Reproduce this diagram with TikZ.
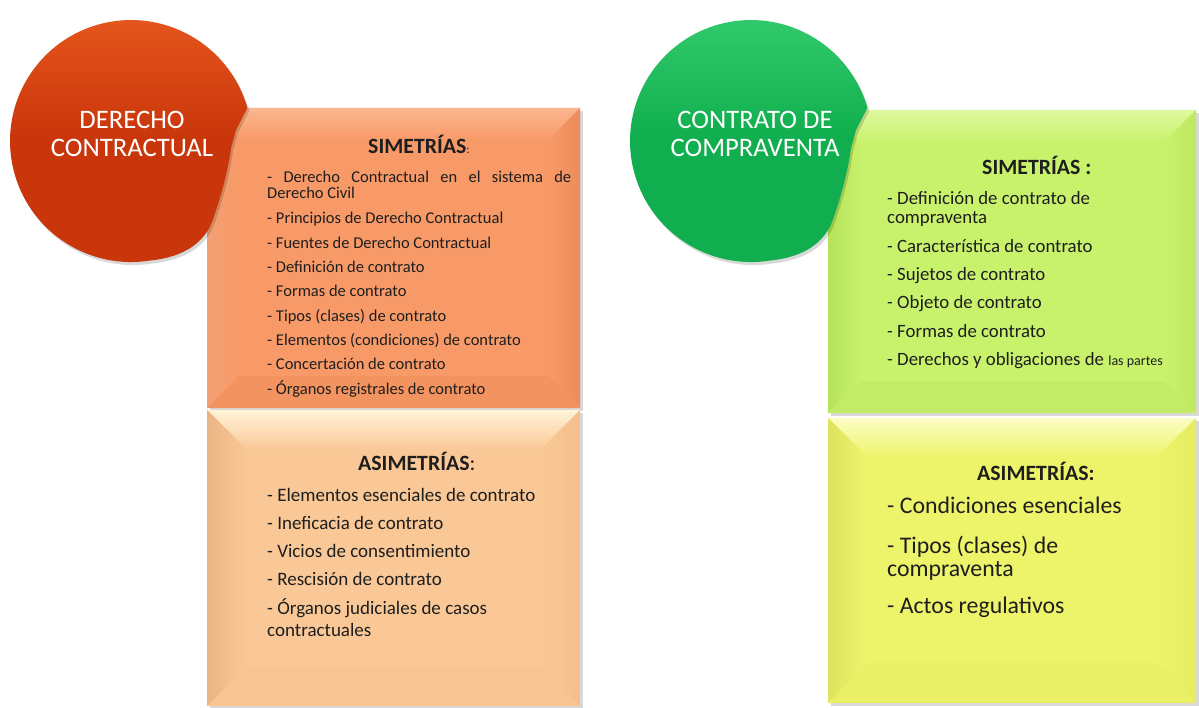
\documentclass[tikz,border=0pt]{standalone}
\usepackage{fontspec}
\setmainfont{Carlito}
\definecolor{txt}{HTML}{1E1E1E}
% left circle / boxes
\definecolor{Rbase}{HTML}{C9360B}
\definecolor{Rlight}{HTML}{E8581F}
\definecolor{LUbase}{HTML}{F89A68}
\definecolor{LUtop}{HTML}{FBB690}
\definecolor{LUleft}{HTML}{F2A074}
\definecolor{LUright}{HTML}{EC8B5B}
\definecolor{LUbot}{HTML}{F3935F}
\definecolor{LLbase}{HTML}{FAC896}
\definecolor{LLtop}{HTML}{FFF3D9}
\definecolor{LLleft}{HTML}{EAB584}
\definecolor{LLright}{HTML}{F2BF8C}
\definecolor{LLbot}{HTML}{F6C592}
% right circle / boxes
\definecolor{Gbase}{HTML}{10AE4E}
\definecolor{Glight}{HTML}{34CC6E}
\definecolor{RUbase}{HTML}{C8F26C}
\definecolor{RUtop}{HTML}{E0F8A0}
\definecolor{RUleft}{HTML}{B6E25A}
\definecolor{RUright}{HTML}{BEE862}
\definecolor{RUbot}{HTML}{C2EC66}
\definecolor{RLbase}{HTML}{EEF46A}
\definecolor{RLtop}{HTML}{FBFDC4}
\definecolor{RLleft}{HTML}{DDE35E}
\definecolor{RLright}{HTML}{E6EC62}
\definecolor{RLbot}{HTML}{EAF066}
\newcommand\bevbox[6]{%
  \fill[black,opacity=0.15] (#1+3,#2+3) rectangle (#3+3,#4+3);
  \fill[#6base] (#1,#2) rectangle (#3,#4);
  \shade[top color=#6top, bottom color=#6base] (#1,#2) -- (#3,#2) -- (#3-#5,#2+#5) -- (#1+#5,#2+#5) -- cycle;
  \shade[left color=#6left, right color=#6base] (#1,#2) -- (#1+#5,#2+#5) -- (#1+#5,#4-#5) -- (#1,#4) -- cycle;
  \shade[left color=#6base, right color=#6right] (#3,#2) -- (#3-#5,#2+#5) -- (#3-#5,#4-#5) -- (#3,#4) -- cycle;
  \fill[#6bot] (#1,#4) -- (#1+#5,#4-#5) -- (#3-#5,#4-#5) -- (#3,#4) -- cycle;
}
% circle shape with flattened lower-right side, centre (131,141), r = 121
\newcommand\dropshape{(247.4,107.9) arc[start angle=-15.9, end angle=-279.1, radius=121]
  .. controls (185,257) and (204,242) .. (212,222) .. controls (220,200) and (228,172) .. (231,148) -- (236,130) -- cycle}
\newcommand\drop[3]{%
  \begin{scope}[shift={(#1,0)}]
    \fill[black,opacity=0.15,shift={(2,3)}] \dropshape;
    \shade[top color=#3, bottom color=#2, middle color=#2] \dropshape;
  \end{scope}
}
\tikzset{
  itemA/.style={anchor=base west, inner sep=0pt, text=txt, font=\fontsize{16.5}{19}\selectfont},
  itemB/.style={anchor=base west, inner sep=0pt, text=txt, font=\fontsize{19}{22}\selectfont},
  itemC/.style={anchor=base west, inner sep=0pt, text=txt, font=\fontsize{18.8}{22}\selectfont},
  itemD/.style={anchor=base west, inner sep=0pt, text=txt, font=\fontsize{23.8}{28}\selectfont},
  head/.style={anchor=base west, inner sep=0pt, text=txt, font=\fontsize{21.8}{25}\selectfont},
  ctitle/.style={anchor=base, inner sep=0pt, text=white, font=\fontsize{26.7}{31}\selectfont},
}
\begin{document}
\begin{tikzpicture}[x=1pt,y=-1pt]
\useasboundingbox (0,0) rectangle (1199,708);
\fill[white] (0,0) rectangle (1199,708);
% boxes
\bevbox{207}{108}{580}{408}{32}{LU}
\bevbox{207}{410}{580}{706}{40}{LL}
\bevbox{828}{110}{1196}{413}{32}{RU}
\bevbox{828}{418}{1196}{703}{40}{RL}
% circles
\drop{0}{Rbase}{Rlight}
\drop{620}{Gbase}{Glight}
% circle titles
\node[ctitle] (t1a) at (132,129) {DERECHO};
\node[ctitle] (t1b) at (132,157) {CONTRACTUAL};
\node[ctitle] (t2a) at (755,129) {CONTRATO DE};
\node[ctitle] (t2b) at (755,157) {COMPRAVENTA};
% left upper
\node[head] (h1) at (368,154) {\textbf{SIMETRÍAS}{\fontsize{12}{14}\selectfont :}};
\node[itemA] (a1) at (267,182.5) {\makebox[304pt][s]{- Derecho Contractual en el sistema de}};
\node[itemA] (a1b) at (267,198.5) {Derecho Civil};
\node[itemA] (a2) at (267,223.5) {- Principios de Derecho Contractual};
\node[itemA] (a3) at (267,248.5) {- Fuentes de Derecho Contractual};
\node[itemA] (a4) at (267,272.5) {- Definición de contrato};
\node[itemA] (a5) at (267,296.5) {- Formas de contrato};
\node[itemA] (a6) at (267,321.5) {- Tipos (clases) de contrato};
\node[itemA] (a7) at (267,345.5) {- Elementos (condiciones) de contrato};
\node[itemA] (a8) at (267,369.5) {- Concertación de contrato};
\node[itemA] (a9) at (267,394.5) {- Órganos registrales de contrato};
% left lower
\node[head] (h2) at (358,470) {\textbf{ASIMETRÍAS}:};
\node[itemB] (b1) at (267,501) {- Elementos esenciales de contrato};
\node[itemB] (b2) at (267,529) {- Ineficacia de contrato};
\node[itemB] (b3) at (267,557) {- Vicios de consentimiento};
\node[itemB] (b4) at (267,585) {- Rescisión de contrato};
\node[itemB] (b5) at (267,614) {- Órganos judiciales de casos};
\node[itemB] (b5b) at (267,636) {contractuales};
% right upper
\node[head] (h3) at (982,175) {\textbf{SIMETRÍAS :}};
\node[itemC] (c1) at (887,205) {- Definición de contrato de};
\node[itemC] (c1b) at (887,224) {compraventa};
\node[itemC] (c2) at (887,253) {- Característica de contrato};
\node[itemC] (c3) at (887,281) {- Sujetos de contrato};
\node[itemC] (c4) at (887,309) {- Objeto de contrato};
\node[itemC] (c5) at (887,338) {- Formas de contrato};
\node[itemC] (c6) at (887,366) {- Derechos y obligaciones de {\fontsize{14}{16}\selectfont las partes}};
% right lower
\node[head] (h4) at (977,480) {\textbf{ASIMETRÍAS:}};
\node[itemD] (d1) at (887,513) {- Condiciones esenciales};
\node[itemD] (d2) at (887,553) {- Tipos (clases) de};
\node[itemD] (d2b) at (887,576) {compraventa};
\node[itemD] (d3) at (887,613) {- Actos regulativos};
\end{tikzpicture}
\end{document}
